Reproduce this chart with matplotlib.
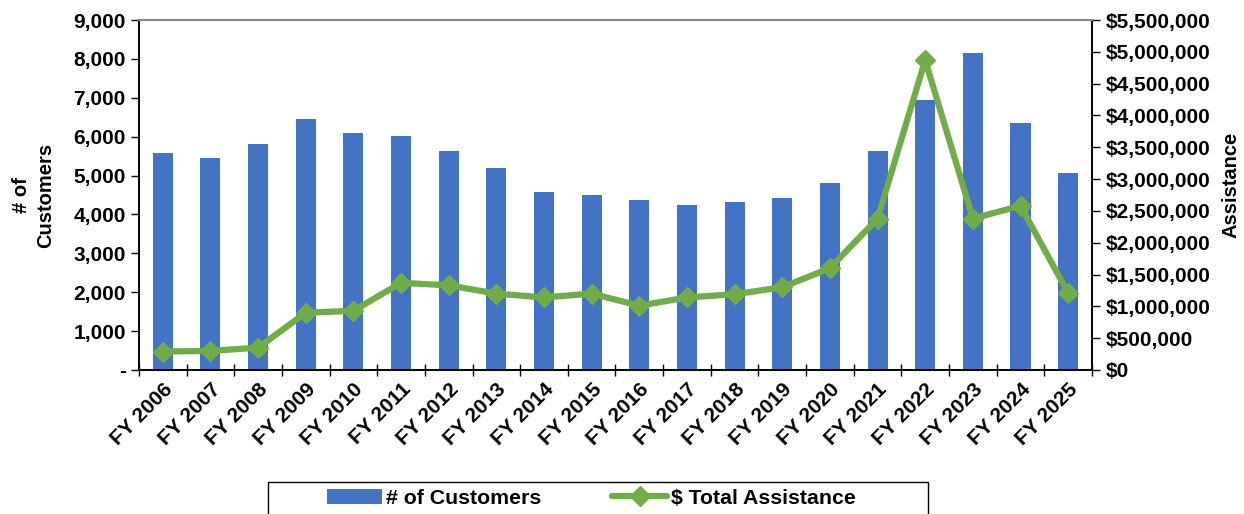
import matplotlib.pyplot as plt
import numpy as np
from matplotlib.patches import Rectangle
from matplotlib.ticker import FuncFormatter, MultipleLocator

plt.rcParams['font.family'] = ['Liberation Sans', 'DejaVu Sans']
plt.rcParams['font.weight'] = 'bold'

years = ['FY 2006', 'FY 2007', 'FY 2008', 'FY 2009', 'FY 2010', 'FY 2011', 'FY 2012',
         'FY 2013', 'FY 2014', 'FY 2015', 'FY 2016', 'FY 2017', 'FY 2018', 'FY 2019',
         'FY 2020', 'FY 2021', 'FY 2022', 'FY 2023', 'FY 2024', 'FY 2025']
customers = [5580, 5450, 5810, 6455, 6095, 6017, 5630, 5194, 4577, 4500,
             4371, 4243, 4320, 4423, 4808, 5630, 6943, 8151, 6351, 5066]
assistance = [290000, 300000, 350000, 900000, 930000, 1370000, 1330000, 1200000, 1140000, 1200000,
              1010000, 1140000, 1190000, 1300000, 1600000, 2380000, 4870000, 2380000, 2580000, 1210000]

fig = plt.figure(figsize=(12.44, 5.14), dpi=100)
ax = fig.add_axes([0.1117, 0.2802, 0.7661, 0.6808])
ax2 = ax.twinx()

x = np.arange(len(years))
bars = ax.bar(x, customers, width=0.42, color='#4472C4', label='# of Customers', zorder=2)
line, = ax2.plot(x, assistance, color='#70AD47', lw=4.5, marker='D', ms=10.5,
                 solid_capstyle='round', label='$ Total Assistance', zorder=3)

ax.set_xlim(-0.5, len(years) - 0.5)
ax.set_ylim(0, 9000)
ax2.set_ylim(0, 5500000)
ax.yaxis.set_major_locator(MultipleLocator(1000))
ax2.yaxis.set_major_locator(MultipleLocator(500000))
ax.yaxis.set_major_formatter(FuncFormatter(lambda v, p: '-' if v == 0 else f'{int(v):,}'))
ax2.yaxis.set_major_formatter(FuncFormatter(lambda v, p: f'${int(v):,}'))

ax.set_xticks(x)
ax.set_xticklabels(years, rotation=45, ha='right', rotation_mode='anchor', fontsize=15)
ax.set_xticks(np.arange(-0.5, len(years), 1), minor=True)
ax.tick_params(axis='x', which='major', length=0, pad=7)
ax.tick_params(axis='x', which='minor', length=9, direction='inout', width=1)
ax.tick_params(axis='y', labelsize=15, length=6, width=1)
ax2.tick_params(axis='y', labelsize=15, length=6, width=1, pad=4)

for a in (ax, ax2):
    a.spines['top'].set_color('#888888')
    a.spines['top'].set_linewidth(1.5)
    a.spines['left'].set_linewidth(1.2)
    a.spines['right'].set_linewidth(1.2)
    a.spines['bottom'].set_linewidth(1.2)

ax.set_ylabel('# of\nCustomers', fontsize=14.5, fontweight='bold', linespacing=1.35)
ax.yaxis.set_label_coords(-0.088, 0.5)
ax2.set_ylabel('Assistance', fontsize=14.5, fontweight='bold')
ax2.yaxis.set_label_coords(1.136, 0.53)

leg = fig.legend([bars, line], ['# of Customers', '$ Total Assistance'], ncol=2,
                 loc='center left', bbox_to_anchor=(327 / 1244, 1 - 498 / 514), fontsize=15.3,
                 frameon=False, columnspacing=3.3, handlelength=2.6, handletextpad=0.2,
                 borderpad=0, borderaxespad=0)
fig.add_artist(Rectangle((268 / 1244, -0.05), 660 / 1244, 1 - 482 / 514 + 0.05,
                         transform=fig.transFigure, fill=False, edgecolor='black', lw=1))

fig.savefig('out.png', dpi=100)
